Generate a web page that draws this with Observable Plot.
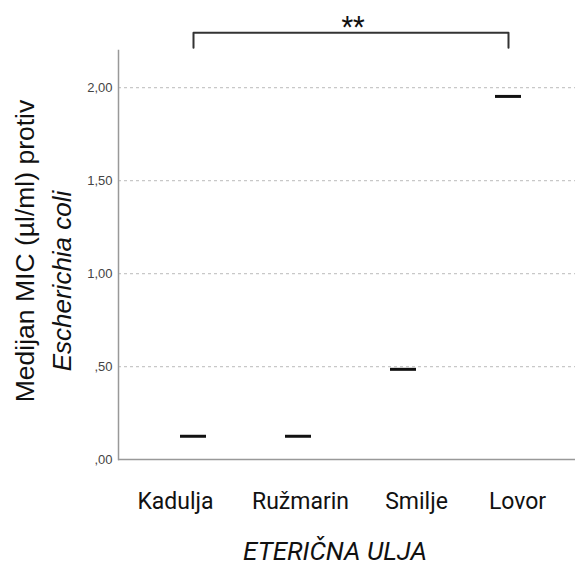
<!DOCTYPE html>
<html><head><meta charset="utf-8">
<script src="https://cdn.jsdelivr.net/npm/d3@7"></script>
<script src="https://cdn.jsdelivr.net/npm/@observablehq/plot@0.6"></script>
<style>body{margin:0;background:#fff}</style>
</head><body><div id="chart"></div>
<script>
const categories = ["Kadulja", "Ružmarin", "Smilje", "Lovor"];
const medians = [0.125, 0.125, 0.485, 1.953];
const yTicks = [0, 0.5, 1, 1.5, 2];
const yTickLabels = [",00", ",50", "1,00", "1,50", "2,00"];
const compareFrom = "Kadulja";
const compareTo = "Lovor";
const compareLabel = "**";
const xTitle = "ETERIČNA ULJA";
const yTitleLine1 = "Medijan MIC (µl/ml) protiv";
const yTitleLine2 = "Escherichia coli";

// styling: horizontal nudges of the category labels (as in the original)
const labelNudge = [-18, 2, 13, 9];

const data = categories.map((c, i) => ({category: c, median: medians[i]}));
const legTop = 2.296, legBottom = 2.215;
const bracket = [
  {x: compareFrom, y: legBottom}, {x: compareFrom, y: legTop},
  {x: compareTo, y: legTop}, {x: compareTo, y: legBottom}
];

const labelMarks = categories.map((c, i) =>
  Plot.text([c], {x: d => d, frameAnchor: "bottom", dx: labelNudge[i], dy: 49, lineAnchor: "bottom",
    fontSize: 23, fill: "#111", text: d => d})
);

const chart = Plot.plot({
  width: 575,
  height: 564,
  marginLeft: 118,
  marginRight: 0,
  marginTop: 50,
  marginBottom: 105,
  style: {fontFamily: "Roboto, sans-serif", background: "#fff"},
  x: {type: "band", domain: categories, range: [140.5, 560.5], paddingInner: 0.752, paddingOuter: 0.376, label: null, axis: null},
  y: {domain: [0, 2.2], label: null},
  marks: [
    Plot.ruleY(yTicks.slice(1), {stroke: "#c8c8c8", strokeWidth: 1.2, strokeDasharray: "3,3"}),
    Plot.axisY({ticks: yTicks, tickFormat: (d) => yTickLabels[yTicks.indexOf(d)], tickSize: 0, tickPadding: 6,
      fontSize: 13, fill: "#444", fontFamily: "Liberation Sans, Arial, sans-serif", label: null}),
    ...labelMarks,
    Plot.ruleY([0], {stroke: "#999", strokeWidth: 1.5}),
    Plot.frame({anchor: "left", stroke: "#999", strokeWidth: 1.5}),
    Plot.tickY(data, {x: "category", y: "median", stroke: "#111", strokeWidth: 3}),
    Plot.line(bracket, {x: "x", y: "y", stroke: "#333", strokeWidth: 2}),
    Plot.text([compareLabel], {frameAnchor: "top", dx: 6, dy: -15, lineAnchor: "bottom", fontSize: 27, fill: "#111", text: d => d}),
    Plot.text([xTitle], {frameAnchor: "bottom", dx: -12, dy: 100, lineAnchor: "bottom", fontSize: 26, fontStyle: "italic", fill: "#111", text: d => d}),
    Plot.text([yTitleLine1], {frameAnchor: "left", dx: -85, dy: -4, rotate: -90, textAnchor: "middle", lineAnchor: "bottom", fontSize: 26.5,
      fontFamily: "Liberation Sans, Arial, sans-serif", fill: "#111", text: d => d}),
    Plot.text([yTitleLine2], {frameAnchor: "left", dx: -48, dy: 26, rotate: -90, textAnchor: "middle", lineAnchor: "bottom", fontSize: 26,
      fontStyle: "italic", fontFamily: "Liberation Sans, Arial, sans-serif", fill: "#111", text: d => d})
  ]
});
document.getElementById("chart").appendChild(chart);
</script>
</body></html>
